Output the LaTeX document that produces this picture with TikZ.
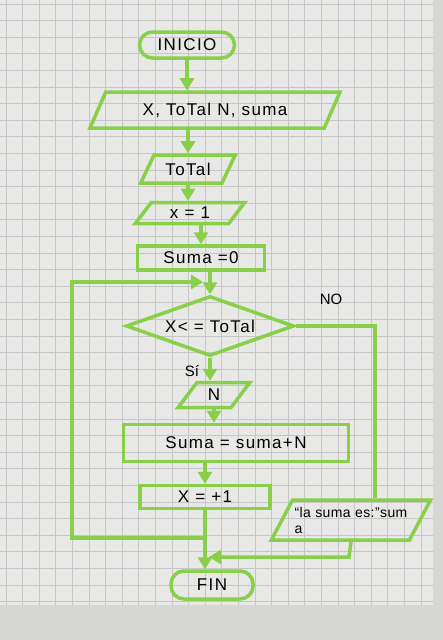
\documentclass[tikz,border=0pt]{standalone}
\usepackage{fontspec}
\setmainfont{Liberation Sans}
\usetikzlibrary{shapes.geometric,arrows.meta}
\definecolor{marker}{RGB}{136,208,74}
\definecolor{paper}{RGB}{232,232,230}
\definecolor{gridc}{RGB}{198,198,198}
\definecolor{edgec}{RGB}{214,214,212}
\begin{document}
\begin{tikzpicture}[x=1pt,y=-1pt,
  line/.style={draw=marker,line width=3.5pt},
  arr/.style={line,-{Triangle[width=14pt,length=12pt]}},
  txt/.style={font=\fontsize{17}{20}\selectfont\addfontfeature{LetterSpace=8}},
  term/.style={line,txt,rectangle,rounded corners=13pt,minimum height=26pt,inner sep=2pt},
  proc/.style={line,txt,rectangle,inner sep=2pt},
  io/.style={line,txt,trapezium,trapezium left angle=60,trapezium right angle=120,trapezium stretches=true,inner sep=2pt},
  decision/.style={line,txt,diamond,aspect=2.8,inner sep=0pt,minimum width=168pt,minimum height=60pt},
  lbl/.style={font=\fontsize{15}{17}\selectfont}]
\useasboundingbox (0,0) rectangle (443,640);
% paper
\fill[paper] (0,0) rectangle (443,640);
\foreach \i in {0,...,25} \draw[gridc,line width=0.7pt] ({6+\i*16.6},0) -- ({6+\i*16.6},605);
\foreach \j in {0,...,36} \draw[gridc,line width=0.7pt] (0,{4+\j*16.6}) -- (433,{4+\j*16.6});
\fill[edgec] (433,0) rectangle (443,640);
\fill[edgec] (0,605) rectangle (443,640);

% nodes
\node[term, minimum width=95pt] (ini) at (187,45) {INICIO};
\node[io, minimum width=250pt, minimum height=36pt] (p1) at (215,110) {X, ToTal N, suma};
\node[io, minimum width=95pt, minimum height=28pt] (tot) at (188,169) {ToTal};
\node[io, minimum width=110pt, minimum height=21pt] (x1) at (190,213) {x = 1};
\node[proc, minimum width=127pt, minimum height=24pt] (s0) at (201,258) {Suma =0};
\node[decision] (d) at (210,326) {X< = ToTal};
\node[io, minimum width=72pt, minimum height=25pt] (n) at (214,395) {N};
\node[proc, minimum width=225pt, minimum height=37pt] (sn) at (236,443) {Suma = suma+N};
\node[proc, minimum width=130pt, minimum height=23pt] (xp) at (205,497) {X = +1};
\node[io, trapezium left angle=55, trapezium right angle=125, minimum width=158pt, minimum height=40pt, align=left, font=\fontsize{14}{16}\selectfont\addfontfeature{LetterSpace=3}] (out) at (351,520) {“la suma es:”sum\\a};
\node[term, minimum width=82pt, minimum height=28pt] (fin) at (212,585) {FIN};

% labels
\node[lbl] (no) at (331,299) {NO};
\node[lbl] (si) at (192,371) {Sí};

% coordinates
\coordinate (jn) at (203,282);
\coordinate (lt) at (72,282);
\coordinate (lb) at (72,538);
\coordinate (jb) at (205,538);
\coordinate (nr) at (375,326);
\coordinate (ob) at (349,557);
\coordinate (ja) at (209,557);

% connectors
\draw[arr] (ini.south) -- (ini.south |- p1.north);
\draw[arr] (p1.south -| tot.north) -- (tot.north);
\draw[arr] (tot.south) -- (tot.south |- x1.north);
\draw[arr] (x1.south -| s0.north) -- (s0.north);
\draw[arr] (s0.south -| d.north) -- (d.north);
\draw[arr] (d.south) -- (d.south |- n.north);
\draw[arr] (n.south) -- (n.south |- sn.north);
\draw[arr] (sn.south -| xp.north) -- (xp.north);
\draw[arr] (xp.south) -- (jb) -- (lb) -- (lt) -- (jn);
\draw[arr] (jb) -- (jb |- fin.north);
\draw[line] (d.east) -- (nr) -- (nr |- out.north);
\draw[arr] (out.south) -- (ob) -- (ja);
\end{tikzpicture}
\end{document}
